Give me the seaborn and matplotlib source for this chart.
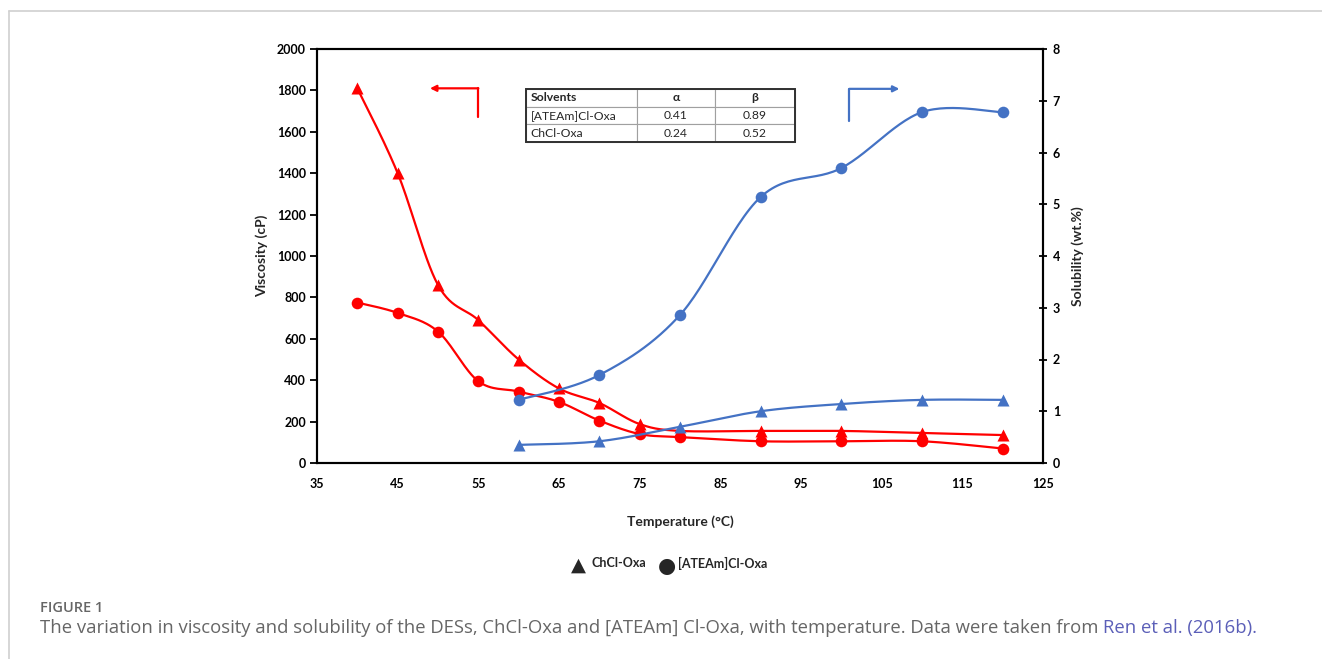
import numpy as np, pandas as pd
import seaborn as sns, matplotlib.pyplot as plt
from matplotlib.patches import FancyArrowPatch

# viscosity (cP), left axis
temp_visc = [40, 45, 50, 55, 60, 65, 70, 75, 80, 90, 100, 110, 120]
visc_chcl = [1810, 1400, 860, 690, 500, 360, 290, 188, 155, 155, 155, 145, 135]
visc_atea = [775, 725, 635, 395, 345, 295, 205, 140, 125, 105, 105, 105, 70]

# solubility (wt.%), right axis
temp_sol = [60, 70, 80, 90, 100, 110, 120]
sol_atea = [1.22, 1.70, 2.86, 5.14, 5.70, 6.78, 6.78]
sol_chcl = [0.35, 0.42, 0.70, 1.00, 1.14, 1.22, 1.22]

table_cols = ["Solvents", "\u03b1", "\u03b2"]
table_rows = [["[ATEAm]Cl-Oxa", "0.41", "0.89"],
              ["ChCl-Oxa", "0.24", "0.52"]]

RED = "#FF0000"
BLUE = "#4472C4"
XLIM = (35, 125)


def smooth(x, y, ylim, n=30):
    # Excel-like smoothed line: cubic bezier, control points from neighbours
    # (computed in roughly pixel-scaled space)
    sx = 726.0 / (XLIM[1] - XLIM[0])
    sy = 414.0 / (ylim[1] - ylim[0])
    P = np.column_stack([np.asarray(x, float) * sx, np.asarray(y, float) * sy])
    out = [P[0]]
    t = np.linspace(0, 1, n)[1:, None]
    for i in range(len(P) - 1):
        p0 = P[i - 1] if i > 0 else P[i]
        p1, p2 = P[i], P[i + 1]
        p3 = P[i + 2] if i + 2 < len(P) else P[i + 1]
        c1 = p1 + (p2 - p0) / 6.0
        c2 = p2 - (p3 - p1) / 6.0
        seg = ((1 - t) ** 3) * p1 + 3 * ((1 - t) ** 2) * t * c1 + 3 * (1 - t) * t ** 2 * c2 + t ** 3 * p2
        out.extend(seg)
    out = np.array(out)
    return pd.DataFrame({"x": out[:, 0] / sx, "y": out[:, 1] / sy})


sns.set_style("white")
plt.rcParams["font.family"] = ["Lato", "DejaVu Sans"]

fig = plt.figure(figsize=(13.22, 6.59), dpi=100)
ax = fig.add_axes([317 / 1322, 1 - 463 / 659, 726 / 1322, 414 / 659])
ax2 = ax.twinx()

for vals, mk in [(visc_chcl, "^"), (visc_atea, "o")]:
    sm = smooth(temp_visc, vals, (0, 2000))
    sns.lineplot(data=sm, x="x", y="y", sort=False, estimator=None, ax=ax,
                 color=RED, lw=1.6, legend=False)
    sns.scatterplot(x=temp_visc, y=vals, marker=mk, s=75 if mk == "^" else 70,
                    color=RED, edgecolor=RED, linewidth=0, ax=ax, zorder=5)

for vals, mk in [(sol_chcl, "^"), (sol_atea, "o")]:
    sm = smooth(temp_sol, vals, (0, 8))
    sns.lineplot(data=sm, x="x", y="y", sort=False, estimator=None, ax=ax2,
                 color=BLUE, lw=1.6, legend=False)
    sns.scatterplot(x=temp_sol, y=vals, marker=mk, s=75 if mk == "^" else 70,
                    color=BLUE, edgecolor=BLUE, linewidth=0, ax=ax2, zorder=5)

ax.set_xlim(*XLIM)
ax.set_ylim(0, 2000)
ax2.set_ylim(0, 8)
ax.set_xticks(range(35, 126, 10))
ax.set_yticks(range(0, 2001, 200))
ax2.set_yticks(range(0, 9))

for a in (ax, ax2):
    for lab in a.get_xticklabels() + a.get_yticklabels():
        lab.set_fontweight("bold")
        lab.set_fontsize(9)
    for sp in a.spines.values():
        sp.set_linewidth(1.5)
        sp.set_color("black")

ax.tick_params(axis="both", direction="out", length=5, width=1.3, pad=3, colors="black")
ax.tick_params(axis="x", pad=6)
ax2.tick_params(axis="y", direction="inout", length=6, width=1.3, pad=4, colors="black")

ax.set_xlabel("Temperature (\u00b0C)", fontsize=10, fontweight="bold", labelpad=18)
ax.set_ylabel("Viscosity (cP)", fontsize=10, fontweight="bold", labelpad=6)
ax2.set_ylabel("Solubility (wt.%)", fontsize=10, fontweight="bold", labelpad=8)
ax.grid(False)
ax2.grid(False)

# direction arrows
ax.plot([55, 55], [1670, 1810], color=RED, lw=1.6)
ax.add_patch(FancyArrowPatch((55, 1810), (49, 1810), arrowstyle="-|>", mutation_scale=9,
                             color=RED, lw=1.6, shrinkA=0, shrinkB=0))
ax2.plot([101, 101], [6.6, 7.23], color=BLUE, lw=1.6)
ax2.add_patch(FancyArrowPatch((101, 7.23), (107.2, 7.23), arrowstyle="-|>", mutation_scale=9,
                              color=BLUE, lw=1.6, shrinkA=0, shrinkB=0))

# solvent parameter table
tab = ax.table(cellText=table_rows, colLabels=table_cols, cellLoc="center",
               colWidths=[111 / 726, 78 / 726, 80 / 726],
               bbox=[(526 - 317) / 726, (463 - 142) / 414, 269 / 726, 53 / 414])
tab.auto_set_font_size(False)
for (r, c), cell in tab.get_celld().items():
    cell.set_edgecolor("#a0a0a0")
    cell.set_linewidth(0.8)
    cell.get_text().set_fontsize(8.7)
    if c == 0:
        cell.get_text().set_ha("left")
        cell.PAD = 0.04
    if r == 0:
        cell.get_text().set_fontweight("bold")
tab.set_zorder(6)
fig.patches.append(plt.Rectangle(((526) / 1322, 1 - 142 / 659), 269 / 1322, 53 / 659,
                                 transform=fig.transFigure, fill=False,
                                 edgecolor="#303030", lw=1.4, zorder=10))

# legend below the plot
fig.text(578 / 1322, 1 - 565 / 659, "\u25b2", fontsize=14, ha="center", va="center",
         family=["DejaVu Sans"])
fig.text(591 / 1322, 1 - 563 / 659, "ChCl-Oxa", fontsize=9, fontweight="bold", va="center")
fig.text(667 / 1322, 1 - 566 / 659, "\u25cf", fontsize=15, ha="center", va="center",
         family=["DejaVu Sans"])
fig.text(678 / 1322, 1 - 563 / 659, "[ATEAm]Cl-Oxa", fontsize=9, fontweight="bold", va="center")

# frame and caption
fig.add_artist(plt.Line2D([9 / 1322, 1], [1 - 11 / 659, 1 - 11 / 659], color="#d0d0d0",
                          lw=1.2, transform=fig.transFigure))
fig.add_artist(plt.Line2D([9 / 1322, 9 / 1322], [0, 1 - 11 / 659], color="#d0d0d0",
                          lw=1.2, transform=fig.transFigure))
fig.text(40 / 1322, 1 - 608 / 659, "FIGURE 1", fontsize=10.5, color="#666666",
         fontweight="semibold", va="center", family=["Open Sans", "DejaVu Sans"])
cap = fig.text(40 / 1322, 1 - 628 / 659,
               "The variation in viscosity and solubility of the DESs, ChCl-Oxa and [ATEAm] Cl-Oxa, "
               "with temperature. Data were taken from ",
               fontsize=13.3, color="#666666", va="center", family=["Open Sans", "DejaVu Sans"])
fig.canvas.draw()
bb = cap.get_window_extent()
fig.text(bb.x1 / fig.bbox.width, 1 - 628 / 659, "Ren et al. (2016b).", fontsize=13.3,
         color="#5b5fb8", va="center", family=["Open Sans", "DejaVu Sans"])

fig.savefig("out.png", dpi=100)
